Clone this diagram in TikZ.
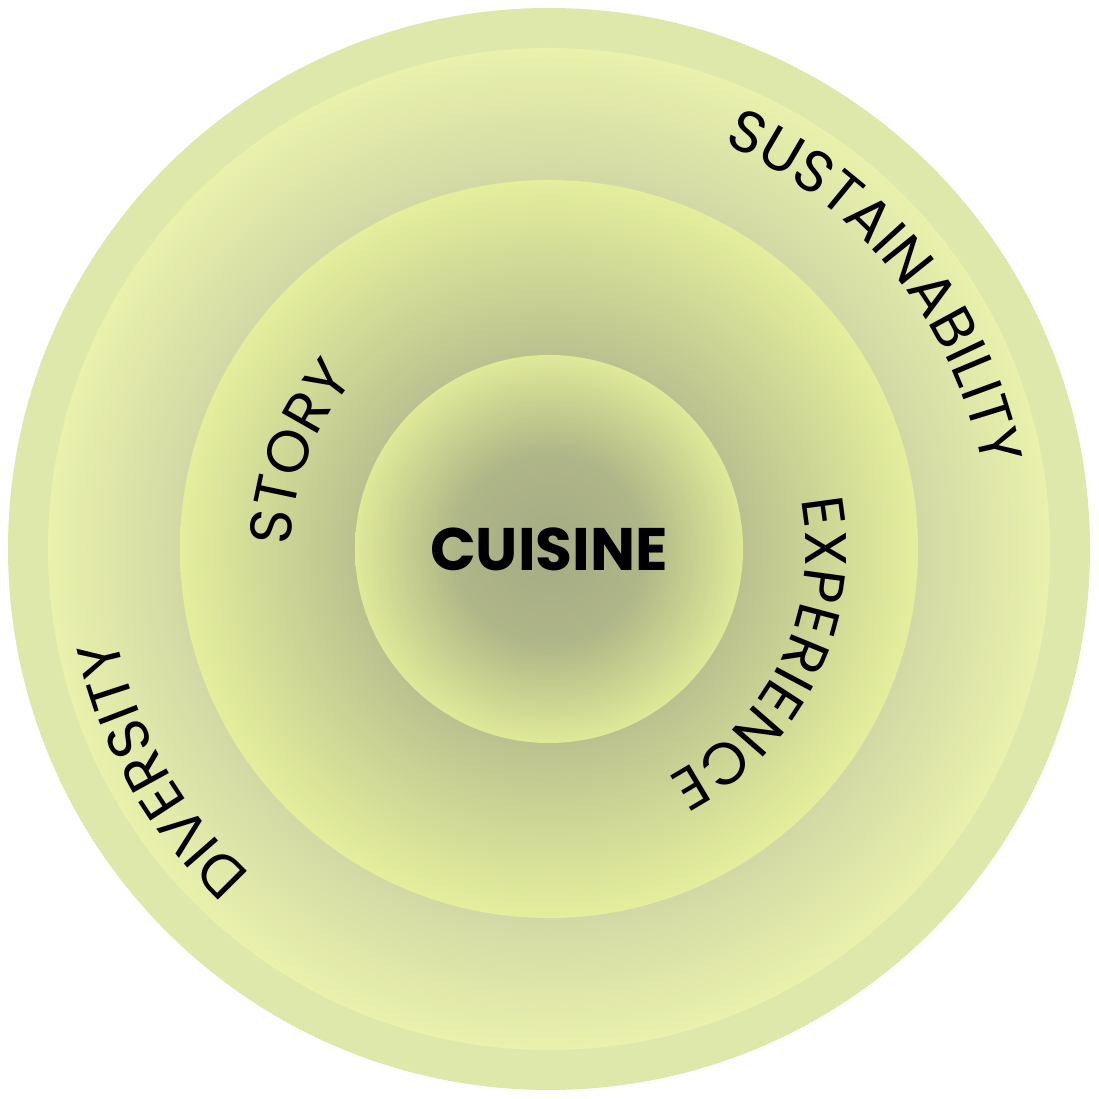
\documentclass[tikz,border=0pt]{standalone}
\usepackage{fontspec}
\setmainfont{Poppins}
\usetikzlibrary{decorations.text}

\definecolor{rimgreen}{RGB}{222,232,170}
\definecolor{ringdark}{RGB}{209,215,164}
\definecolor{ringlight}{RGB}{233,241,172}
\definecolor{middark}{RGB}{186,193,143}
\definecolor{midlight}{RGB}{228,238,156}
\definecolor{coredark}{RGB}{166,172,132}
\definecolor{corelight}{RGB}{223,233,152}

\pgfdeclareradialshading{ringglow}{\pgfpointorigin}{color(0bp)=(ringdark); color(18bp)=(ringdark); color(25bp)=(ringlight); color(50bp)=(ringlight)}
\pgfdeclareradialshading{midglow}{\pgfpointorigin}{color(0bp)=(middark); color(13bp)=(middark); color(25bp)=(midlight); color(50bp)=(midlight)}
\pgfdeclareradialshading{coreglow}{\pgfpointorigin}{color(0bp)=(coredark); color(12bp)=(coredark!85!corelight); color(25bp)=(corelight); color(50bp)=(corelight)}

\newcommand{\ringfont}{\fontsize{44pt}{48pt}\selectfont}

\tikzset{every picture/.style={line width=0.75pt}}
\tikzset{ringtext/.style={decorate, decoration={text along path, text align={fit to path}, text={#1}}}}

\begin{document}
\begin{tikzpicture}[x=0.75pt,y=0.75pt]
        \useasboundingbox (0,0) rectangle (1099,1099);
        \coordinate (c) at (549,550);
        %Shape: Circle (outer rim)
        \fill [rimgreen] (c) circle [radius=541];
        %Shape: Circle (outer ring)
        \shade [shading=ringglow] (c) circle [radius=501];
        %Shape: Circle (middle)
        \shade [shading=midglow] (c) circle [radius=369];
        %Shape: Circle (core)
        \shade [shading=coreglow] (c) circle [radius=194];

        % Text Node
        \node (cuisine) at (c) [inner sep=0.75pt, font=\fontsize{45pt}{48pt}\selectfont\bfseries] {CUISINE};
        % Curved texts
        \path [ringtext={|\ringfont|SUSTAINABILITY}] ([shift={(66.7:441)}]c) arc [start angle=66.7, end angle=11.7, radius=441];
        \path [ringtext={|\ringfont|DIVERSITY}] ([shift={(227.5:441)}]c) arc [start angle=227.5, end angle=192.2, radius=441];
        \path [ringtext={|\ringfont|STORY}] ([shift={(179.3:258)}]c) arc [start angle=179.3, end angle=141.3, radius=258];
        \path [ringtext={|\ringfont|EXPERIENCE}] ([shift={(11:257)}]c) arc [start angle=11, end angle=-62.6, radius=257];
\end{tikzpicture}
\end{document}
